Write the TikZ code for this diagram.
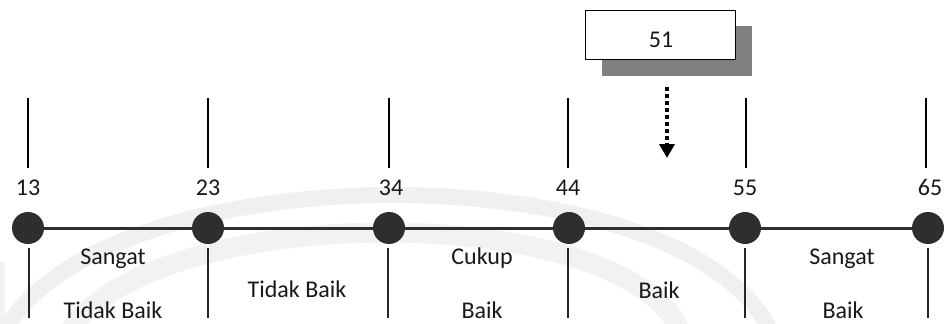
\documentclass[tikz,border=0pt]{standalone}
\usepackage{fontspec}
\setmainfont{Carlito}
\usetikzlibrary{arrows.meta}
\definecolor{inkdark}{HTML}{2E2E2E}
\definecolor{shadowgray}{HTML}{808080}
\begin{document}
\begin{tikzpicture}[x=1pt,y=-1pt,
  lbl/.style={font=\fontsize{24}{28}\selectfont, text=black!90, anchor=base, inner sep=0pt},
  dotnode/.style={circle, fill=inkdark, minimum size=32pt, inner sep=0pt},
  axis/.style={draw=inkdark, line width=3pt},
  uptick/.style={draw=black, line width=1.8pt},
  lowtick/.style={draw=black!85, line width=1.3pt},
  valbox/.style={draw=black, line width=1.6pt, fill=white, minimum width=150pt, minimum height=49pt, inner sep=0pt},
  pointer/.style={line width=3.5pt, dash pattern=on 3.5pt off 3.5pt, -{Triangle[width=15pt,length=14pt]}}]
\useasboundingbox (0,0) rectangle (951,324);
\fill[white] (0,0) rectangle (951,324);

% faint watermark arcs behind the scale
\begin{scope}
\clip (0,0) rectangle (951,324);
\draw[black!6, line width=16pt] (5,330) .. controls (110,150) and (680,150) .. (770,330);
\draw[black!5, line width=20pt] (70,330) .. controls (160,200) and (620,200) .. (680,330);
\draw[black!5, line width=10pt] (0,262) -- (0,330);
\end{scope}

% value box with its shadow
\fill[shadowgray] (602,26) rectangle (752,76);
\node[valbox] (b51) at (660.5,35) {};
\node[lbl] (v51) at (661,47) {51};
\coordinate (a1) at (667,87);
\coordinate (a2) at (667,158);
\draw[pointer] (a1) -- (a2);

% scale points
\foreach \n/\x in {13/28, 23/208, 34/389, 44/569, 55/745, 65/928} {
  \node[dotnode] (d\n) at (\x,228) {};
}
\draw[axis] (d13.east) -- (d23.west);
\draw[axis] (d23.east) -- (d34.west);
\draw[axis] (d34.east) -- (d44.west);
\draw[axis] (d44.east) -- (d55.west);
\draw[axis] (d55.east) -- (d65.west);

% ticks above and below each point
\foreach \n/\x in {13/28, 23/208, 34/389, 44/568, 55/746, 65/926} {
  \coordinate (u\n a) at (\x,98);
  \coordinate (u\n b) at (\x,168);
  \draw[uptick] (u\n a) -- (u\n b);
}
\foreach \n/\x in {13/29, 23/208, 34/388, 44/568, 55/745, 65/928} {
  \coordinate (l\n a) at (\x,248);
  \coordinate (l\n b) at (\x,318);
  \draw[lowtick] (l\n a) -- (l\n b);
}

% score values
\node[lbl] (n13) at (28,195) {13};
\node[lbl] (n23) at (208,195) {23};
\node[lbl] (n34) at (391,195) {34};
\node[lbl] (n44) at (568,195) {44};
\node[lbl] (n55) at (745,195) {55};
\node[lbl] (n65) at (930,195) {65};

% category labels
\node[lbl] (c1a) at (113,264) {Sangat};
\node[lbl] (c1b) at (113,318) {Tidak Baik};
\node[lbl] (c2) at (297,297) {Tidak Baik};
\node[lbl] (c3a) at (482,264) {Cukup};
\node[lbl] (c3b) at (482,318) {Baik};
\node[lbl] (c4) at (659,298) {Baik};
\node[lbl] (c5a) at (842,264) {Sangat};
\node[lbl] (c5b) at (843,318) {Baik};
\end{tikzpicture}
\end{document}
